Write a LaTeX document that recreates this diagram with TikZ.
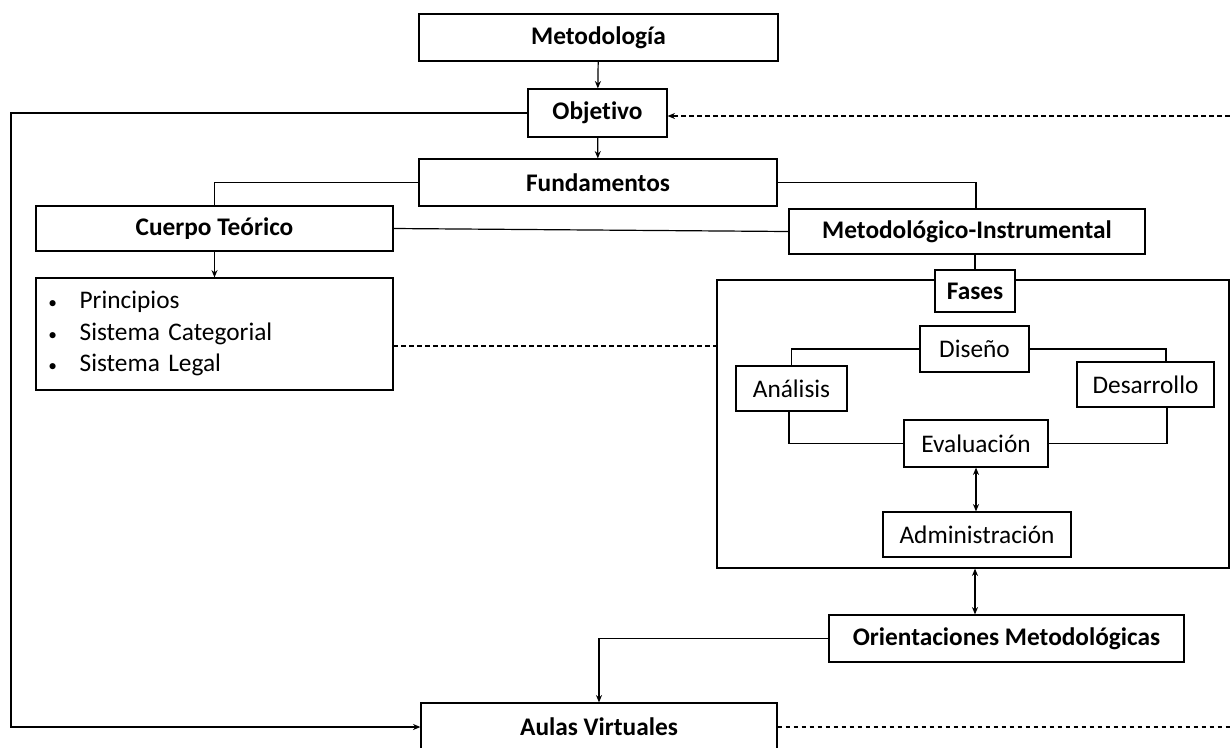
\documentclass[tikz,border=0pt]{standalone}
\usepackage{fontspec}
\setmainfont{Carlito}[Ligatures=NoCommon]
\usetikzlibrary{arrows.meta}
\newcommand{\diagfont}{\fontsize{19}{23.6}\selectfont}
\newcommand{\punto}{{\fontsize{13}{13}\selectfont\textbullet}}
\tikzset{
  box/.style={draw, line width=0.9pt, inner sep=0pt, font=\diagfont\bfseries},
  fasebox/.style={draw, line width=0.9pt, inner sep=0pt, font=\diagfont},
  conn/.style={line width=0.9pt},
  tip/.style={-{Stealth[length=5.5pt,width=4.5pt]}},
  tips/.style={{Stealth[length=5.5pt,width=4.5pt]}-{Stealth[length=5.5pt,width=4.5pt]}},
  dashline/.style={line width=0.9pt, dash pattern=on 3.5pt off 2.5pt},
}
\begin{document}
\begin{tikzpicture}[x=0.75pt,y=-0.75pt]
\useasboundingbox (0,0) rectangle (1230,747);
\clip (0,0) rectangle (1230,747);

% Drawing box Metodologia
\node [box, minimum width=269.25pt, minimum height=35.25pt] (metod) at (598.5,37.5) {Metodología};

% Drawing box Objetivo
\node [box, minimum width=104.25pt, minimum height=36pt] (obj) at (597.5,113) {Objetivo};

% Drawing box Fundamentos
\node [box, minimum width=268.5pt, minimum height=35.25pt] (fund) at (598,182.5) {Fundamentos};

% Drawing box Cuerpo Teorico
\node [box, minimum width=267.75pt, minimum height=33.75pt] (cuerpo) at (214.5,228.5) {Cuerpo Teórico};

% Drawing box Metodologico-Instrumental
\node [box, minimum width=267pt, minimum height=33.75pt] (metins) at (967,231.5) {Metodológico-Instrumental};

% Drawing list of Cuerpo Teorico
\node [fasebox, minimum height=84pt, text width=251.25pt, inner xsep=8.25pt, align=left] (lista) at (214.5,334) {%
  \begin{tabular}{@{\hspace{1pt}}l@{\hspace{17pt}}l@{}}
  \punto & Principios\\
  \punto & Sistema Categorial\\
  \punto & Sistema Legal
  \end{tabular}};

% Drawing frame of Fases
\node [draw, line width=0.9pt, minimum width=384pt, minimum height=216pt] (marco) at (973,424) {};
\node [box, fill=white, minimum width=60pt, minimum height=31.5pt] (fases) at (975,291) {Fases};

% Drawing phases
\node [fasebox, minimum width=81.75pt, minimum height=34.5pt] (diseno) at (974.5,349) {Diseño};
\node [fasebox, minimum width=83.25pt, minimum height=33.75pt] (analisis) at (791.5,388.5) {Análisis};
\node [fasebox, minimum width=102.75pt, minimum height=33.75pt] (desarrollo) at (1145.5,384.5) {Desarrollo};
\node [fasebox, minimum width=108pt, minimum height=35.25pt] (evaluacion) at (976,443.5) {Evaluación};
\node [fasebox, minimum width=141pt, minimum height=33.75pt] (admin) at (977,534.5) {Administración};

% Drawing box Orientaciones Metodologicas
\node [box, minimum width=266.25pt, minimum height=35.25pt] (orient) at (1006.5,638.5) {Orientaciones Metodológicas};

% Drawing box Aulas Virtuales
\node [box, minimum width=267pt, minimum height=36pt] (aulas) at (599,727) {Aulas Virtuales};

% Free ends of connectors
\coordinate (izq) at (11,113);
\coordinate (derobj) at (1230,116);
\coordinate (deraulas) at (1230,727);
\coordinate (mitop) at (976,209);
\coordinate (listder) at (393,346);
\coordinate (marcoizq) at (717,346);
\coordinate (destop) at (1166,362);
\coordinate (desbot) at (1167,407);
\coordinate (anabot) at (789,411);

% Drawing connectors
\draw [conn, tip] (metod) -- (obj);
\draw [conn, tip] (obj) -- (fund);
\draw [conn, tip] (obj.west) -- (izq) |- (aulas.west);
\draw [dashline, tip] (derobj) -- (obj.east |- derobj);
\draw [conn] (fund.west) -| (cuerpo.north);
\draw [conn] (fund.east) -| (mitop);
\draw [conn] (cuerpo.east) -- (metins.west);
\draw [conn] (fases.north) -- (fases.north |- metins.south);
\draw [conn, tip] (cuerpo.south) -- (lista.north);
\draw [dashline] (listder) -- (marcoizq);
\draw [conn] (diseno.west) -| (analisis.north);
\draw [conn] (diseno.east) -| (destop);
\draw [conn] (anabot) |- (evaluacion.west);
\draw [conn] (desbot) |- (evaluacion.east);
\draw [conn, tips] (evaluacion.south) -- (admin.north -| evaluacion.south);
\draw [conn, tips] (marco.south -| fases) -- (orient.north -| fases);
\draw [conn, tip] (orient.west) -| (aulas.north);
\draw [dashline] (aulas.east) -- (deraulas);
\end{tikzpicture}
\end{document}
